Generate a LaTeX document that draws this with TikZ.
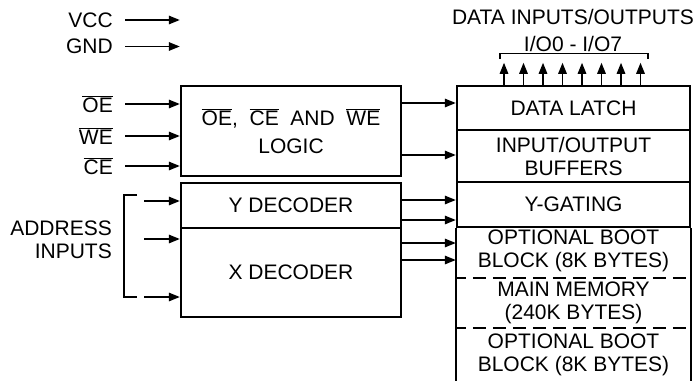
\documentclass[tikz,border=0pt]{standalone}
\usepackage{fontspec}
\setmainfont{Liberation Sans}
\usetikzlibrary{arrows.meta}
\newcommand{\ovl}[1]{$\overline{\mbox{#1}}$}

\begin{document}
\begin{tikzpicture}[x=1pt, y=-1pt, >={Triangle[length=11pt,width=8.5pt]},
    font=\fontsize{21}{23}\selectfont,
    blk/.style={draw, line width=2.4pt, align=center, inner sep=0pt},
    lbl/.style={anchor=east, inner sep=0pt, align=right},
    wire/.style={->, line width=1.4pt},
    dashline/.style={line width=2.4pt, dash pattern=on 13pt off 7pt, dash phase=3pt}]
    \def\W{233}
    \useasboundingbox (0,0) rectangle (698,380);
    % Control and supply inputs
    \node[lbl] (vcc) at (113,20) {VCC};
    \node[lbl] (gnd) at (113,46.5) {GND};
    \node[lbl] (oe) at (113,104) {\ovl{OE}};
    \node[lbl] (we) at (113,136) {\ovl{WE}};
    \node[lbl] (ce) at (113,166) {\ovl{CE}};
    % Left blocks
    \node[blk, minimum width=220, minimum height=90] (logic) at (291,131)
        {\ovl{OE},~ \ovl{CE} ~AND~ \ovl{WE}\\[5pt] LOGIC};
    \node[blk, minimum width=220, minimum height=45] (ydec) at (291,205.5) {Y DECODER};
    \node[blk, minimum width=220, minimum height=89] (xdec) at (291,272.5) {X DECODER};
    % Right stack
    \node[blk, minimum width=\W, minimum height=44] (latch) at (573.5,108) {DATA LATCH};
    \node[blk, minimum width=\W, minimum height=52] (buf) at (573.5,156) {INPUT/OUTPUT\\BUFFERS};
    \node[blk, minimum width=\W, minimum height=45] (ygate) at (573.5,204.5) {Y-GATING};
    \draw[line width=2.4pt] (ygate.south west) -- ++(0,153);
    \draw[line width=2.4pt] (ygate.south east) -- ++(0,153);
    \draw[dashline] (ygate.south west) ++(0,50) -- ++(\W,0);
    \draw[dashline] (ygate.south west) ++(0,100) -- ++(\W,0);
    \node[align=center, inner sep=0pt] (boot1) at (573.5,251) {OPTIONAL BOOT\\BLOCK (8K BYTES)};
    \node[align=center, inner sep=0pt] (main) at (573.5,302.5) {MAIN MEMORY\\(240K BYTES)};
    \node[align=center, inner sep=0pt] (boot2) at (573.5,355) {OPTIONAL BOOT\\BLOCK (8K BYTES)};
    % Data pins
    \node[inner sep=0pt] (dio) at (573,17) {DATA INPUTS/OUTPUTS};
    \node[inner sep=0pt] (io) at (573,44) {I/O0 - I/O7};
    \draw[line width=1.4pt] (500,59) -- (500,53.5) -- (648,53.5) -- (648,59);
    \foreach \i in {0,...,7}
        \draw[wire] ([xshift=-69.5pt+19.5pt*\i]latch.north) -- ++(0,-22);
    % Input arrows
    \draw[wire] ([xshift=12pt]vcc.east) -- (vcc.east -| logic.west);
    \draw[wire] ([xshift=12pt]gnd.east) -- (gnd.east -| logic.west);
    \foreach \s in {oe,we,ce}
        \draw[wire] ([xshift=12pt]\s.east) -- (\s.east -| logic.west);
    % Address inputs
    \node[lbl] (addr) at (112,240) {ADDRESS\\INPUTS};
    \coordinate (abt) at (124,195);
    \coordinate (abb) at (124,297);
    \draw[line width=1.4pt] ([xshift=13pt]abt) -- (abt) -- (abb) -- ([xshift=13pt]abb);
    \coordinate (a1) at (144,201);
    \coordinate (a2) at (144,239);
    \coordinate (a3) at (144,297);
    \draw[wire] (a1) -- (a1 -| ydec.west);
    \draw[wire] (a2) -- (a2 -| xdec.west);
    \draw[wire] (a3) -- (a3 -| xdec.west);
    % Internal arrows
    \draw[wire] (logic.east |- 0,103) -- (latch.west |- 0,103);
    \draw[wire] (logic.east |- 0,155) -- (buf.west |- 0,155);
    \foreach \y in {200,220}
        \draw[wire] (ydec.east |- 0,\y) -- (ygate.west |- 0,\y);
    \foreach \y in {243,260}
        \draw[wire] (xdec.east |- 0,\y) -- (ygate.west |- 0,\y);
\end{tikzpicture}
\end{document}
